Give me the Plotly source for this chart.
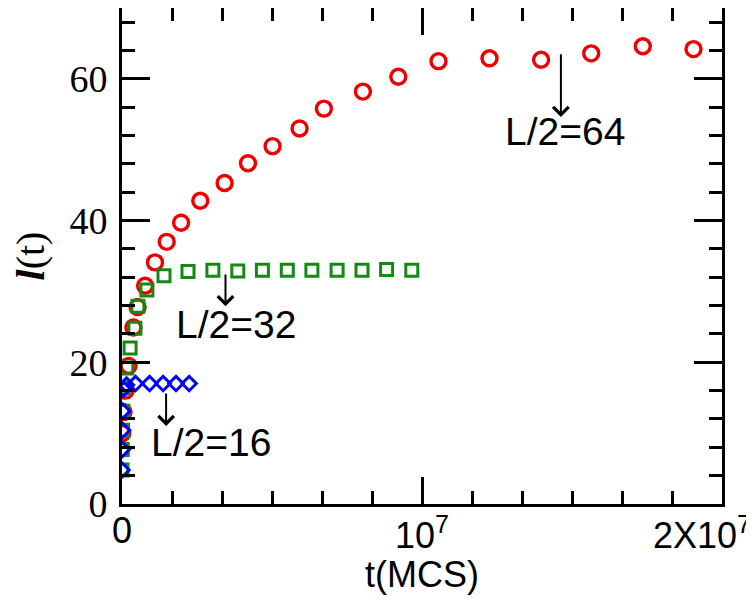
import plotly.graph_objects as go

# L/2 = 64 (red circles)
t64 = [0.01e6, 0.05e6, 0.12e6, 0.22e6, 0.38e6, 0.52e6, 0.77e6, 1.10e6, 1.49e6, 1.97e6,
       2.61e6, 3.42e6, 4.20e6, 5.02e6, 5.92e6, 6.73e6, 8.03e6, 9.21e6, 10.55e6, 12.25e6,
       13.97e6, 15.64e6, 17.36e6, 19.05e6]
l64 = [10.0, 13.0, 16.0, 19.5, 24.9, 27.8, 30.8, 34.1, 37.0, 39.7,
       42.8, 45.3, 48.1, 50.5, 53.0, 55.8, 58.2, 60.3, 62.5, 62.9,
       62.7, 63.6, 64.6, 64.2]

# L/2 = 32 (green squares)
t32 = [0.0, 0.01e6, 0.02e6, 0.03e6, 0.04e6, 0.16e6, 0.27e6, 0.43e6, 0.53e6, 0.83e6,
       1.40e6, 2.20e6, 3.03e6, 3.86e6, 4.68e6, 5.51e6, 6.33e6, 7.17e6, 8.00e6, 8.82e6, 9.66e6]
l32 = [4.8, 7.7, 10.4, 13.1, 16.4, 19.2, 22.0, 24.8, 27.9, 30.2,
       32.2, 32.8, 33.0, 32.9, 33.0, 33.0, 33.0, 33.0, 33.0, 33.1, 33.0]

# L/2 = 16 (blue diamonds)
t16 = [0.0, 0.01e6, 0.02e6, 0.03e6, 0.05e6, 0.15e6, 0.45e6, 0.92e6, 1.37e6, 1.80e6, 2.24e6]
l16 = [4.8, 7.7, 10.4, 13.1, 16.2, 16.8, 17.0, 17.0, 17.0, 17.0, 17.0]

x_tick_vals = [0, 1e7, 2e7]
x_tick_text = ["0", "10<sup>7</sup>", "2X10<sup>7</sup>"]
y_tick_vals = [0, 20, 40, 60]

# annotations: (arrow x, arrow tail y, arrow head y, label x, label y, label)
labels = [
    (14.63e6, 63.7, 54.6, 14.77e6, 52.6, "L/2=64"),
    (3.45e6, 32.6, 27.9, 3.81e6, 25.3, "L/2=32"),
    (1.47e6, 15.8, 11.0, 2.98e6, 8.7, "L/2=16"),
]

RED = "#ee0000"
GREEN = "#138a13"
BLUE = "#0000ff"

fig = go.Figure()
fig.add_trace(go.Scatter(x=t64, y=l64, mode="markers",
                         marker=dict(symbol="circle-open", size=15, color=RED,
                                     line=dict(width=3.4, color=RED))))
fig.add_trace(go.Scatter(x=t32, y=l32, mode="markers",
                         marker=dict(symbol="square-open", size=12, color=GREEN,
                                     line=dict(width=3, color=GREEN))))
fig.add_trace(go.Scatter(x=t16, y=l16, mode="markers",
                         marker=dict(symbol="diamond-open", size=11, color=BLUE,
                                     line=dict(width=3, color=BLUE))))

annotations = []
for ax_, ytail, yhead, lx, ly, txt in labels:
    annotations.append(dict(x=ax_, y=yhead, ax=ax_, ay=ytail, axref="x", ayref="y",
                            xref="x", yref="y", text="", showarrow=True,
                            arrowhead=4, arrowwidth=2, arrowsize=1.5,
                            arrowcolor="black", standoff=0, startstandoff=0))
    annotations.append(dict(x=lx, y=ly, xref="x", yref="y", text=txt, showarrow=False,
                            font=dict(family="Liberation Sans", size=39, color="black"),
                            xanchor="center", yanchor="middle"))

for v, txt in zip(x_tick_vals, x_tick_text):
    anchor = "center"
    shift = 0
    if v == 2e7:
        anchor = "right"
        shift = 31
    annotations.append(dict(x=v, y=0, xref="x", yref="paper", text=txt, showarrow=False,
                            font=dict(family="Liberation Sans", size=36, color="black"),
                            xanchor=anchor, yanchor="top", xshift=shift, yshift=-4))

# the page body adds an 8px offset, so the figure is 8px smaller and margins compensate
fig.update_layout(
    width=746, height=600,
    margin=dict(l=114, r=32, t=0, b=104),
    paper_bgcolor="white", plot_bgcolor="white",
    showlegend=False,
    annotations=annotations,
    xaxis=dict(range=[0, 2e7], tickvals=x_tick_vals, showticklabels=False,
               automargin=False,
               ticks="inside", ticklen=27, tickwidth=3, tickcolor="black",
               minor=dict(dtick=1e7 / 6, tick0=0, ticks="inside", ticklen=13,
                          tickwidth=3, tickcolor="black", showgrid=False),
               showline=True, linewidth=3, linecolor="black", mirror="allticks",
               showgrid=False, zeroline=False,
               title=dict(text="t(MCS)", standoff=56,
                          font=dict(family="Liberation Sans", size=36, color="black"))),
    yaxis=dict(range=[0, 70], tickvals=y_tick_vals,
               automargin=False,
               ticks="inside", ticklen=28, tickwidth=3, tickcolor="black",
               minor=dict(dtick=4, tick0=0, ticks="inside", ticklen=13,
                          tickwidth=3, tickcolor="black", showgrid=False),
               showline=True, linewidth=3, linecolor="black", mirror="allticks",
               showgrid=False, zeroline=False,
               tickfont=dict(family="Liberation Serif", size=38, color="black"),
               ticklabelstandoff=4,
               title=dict(text="<b><i>l</i></b>(t)", standoff=16,
                          font=dict(family="Liberation Serif", size=40, color="black"))),
)

fig.write_html("out.html")
